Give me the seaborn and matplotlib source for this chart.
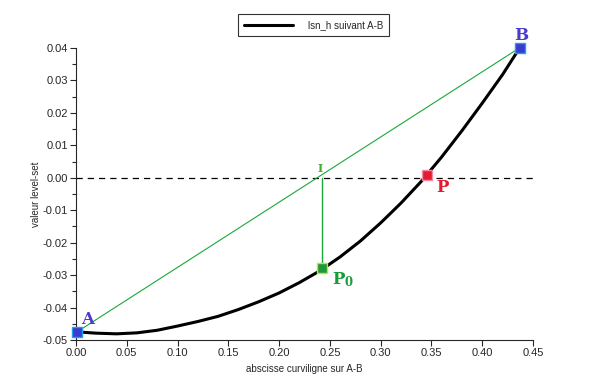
import numpy as np
import pandas as pd
import matplotlib
matplotlib.use("Agg")
import matplotlib.pyplot as plt
from matplotlib.ticker import MultipleLocator
import seaborn as sns

# level-set values along the curve A-B
abscisse = [0.001, 0.02, 0.04, 0.06, 0.08, 0.10, 0.12, 0.14, 0.16, 0.18,
            0.20, 0.22, 0.24, 0.26, 0.28, 0.30, 0.32, 0.34, 0.36, 0.38,
            0.40, 0.42, 0.437]
lsn_h = [-0.0475, -0.0479, -0.0481, -0.0478, -0.0470, -0.0457, -0.0443, -0.0427, -0.0406, -0.0382,
         -0.0355, -0.0323, -0.0287, -0.0244, -0.0195, -0.0139, -0.0078, -0.0011, 0.0064, 0.0145,
         0.0230, 0.0318, 0.0401]

# named points
pt_A = (0.001, -0.0475)
pt_B = (0.437, 0.0401)
pt_P = (0.346, 0.0010)
pt_P0 = (0.2427, -0.0279)
pt_I = (0.2427, 0.0)

xticks = [0.00, 0.05, 0.10, 0.15, 0.20, 0.25, 0.30, 0.35, 0.40, 0.45]
yticks = [-0.05, -0.04, -0.03, -0.02, -0.01, 0.00, 0.01, 0.02, 0.03, 0.04]

sns.set_style("ticks")
plt.rcParams["font.family"] = ["Liberation Sans", "DejaVu Sans"]
plt.rcParams["mathtext.fontset"] = "dejavuserif"

fig = plt.figure(figsize=(6.1, 3.86), dpi=100)
ax = fig.add_axes([0.1246, 0.1192, 0.7492, 0.7564])

df = pd.DataFrame({"s": abscisse, "lsn": lsn_h})
sns.lineplot(data=df, x="s", y="lsn", ax=ax, color="black", linewidth=2.2,
             label="lsn_h suivant A-B", legend=False, zorder=3)

# zero level and construction lines
ax.axhline(0.0, color="black", linestyle=(0, (5, 4)), linewidth=0.9, zorder=2)
ax.plot([pt_A[0], pt_B[0]], [pt_A[1], pt_B[1]], color="#1aa83a", linewidth=0.8, zorder=2)
ax.plot([pt_I[0], pt_P0[0]], [pt_I[1], pt_P0[1]], color="#1aa83a", linewidth=1.0, zorder=2)

# markers
for (px, py), fc, ec in [(pt_A, "#3b3bd0", "#1ea0e8"), (pt_B, "#3b3bd0", "#1ea0e8"),
                         (pt_P, "#e8182e", "#f08aa8"), (pt_P0, "#1a9a3a", "#c8e03a")]:
    ax.plot(px, py, marker="s", markersize=6.5, markerfacecolor=fc,
            markeredgecolor=ec, markeredgewidth=1.0, zorder=5, clip_on=False)

serif = ["DejaVu Serif"]
ax.text(pt_A[0] + 0.004, pt_A[1] + 0.0012, "A", color="#4a3ad0", fontsize=12,
        fontweight="bold", family=serif, ha="left", va="bottom")
ax.text(pt_B[0] + 0.001, pt_B[1] + 0.0012, "B", color="#4a3ad0", fontsize=12,
        fontweight="bold", family=serif, ha="center", va="bottom")
ax.text(pt_P[0] + 0.009, pt_P[1] - 0.0015, "P", color="#e8182e", fontsize=12,
        fontweight="bold", family=serif, ha="left", va="top")
ax.text(pt_P0[0] + 0.009, pt_P0[1] - 0.0005, r"$\mathbf{P}_\mathbf{0}$", color="#1a9a3a",
        fontsize=12, ha="left", va="top")
ax.text(pt_I[0] - 0.002, pt_I[1] + 0.0012, "I", color="#4aa832", fontsize=8,
        fontweight="bold", family=serif, ha="center", va="bottom")

ax.set_xlim(0, 0.45)
ax.set_ylim(-0.05, 0.04)
ax.set_xticks(xticks)
ax.set_yticks(yticks)
ax.set_xticklabels([f"{v:.2f}" for v in xticks])
ax.set_yticklabels([f"{v:.2f}" for v in yticks])
ax.yaxis.set_minor_locator(MultipleLocator(0.005))
ax.tick_params(axis="both", which="major", labelsize=8, length=4, width=0.8, direction="out", pad=2)
ax.tick_params(axis="y", which="minor", length=3, width=0.8, direction="out")
for side in ["top", "right"]:
    ax.spines[side].set_visible(False)
for side in ["left", "bottom"]:
    ax.spines[side].set_linewidth(0.8)

ax.set_xlabel("abscisse curviligne sur A-B", fontsize=7, labelpad=4)
ax.set_ylabel("valeur level-set", fontsize=7, labelpad=1)

handles, labels = ax.get_legend_handles_labels()
leg = fig.legend(handles, labels, loc="center", bbox_to_anchor=(0.514, 0.935),
                 fontsize=7, frameon=True, fancybox=False, edgecolor="black",
                 handlelength=5, borderpad=0.6, handletextpad=1.5)
leg.get_frame().set_linewidth(0.8)

fig.savefig("out.png", dpi=100)
